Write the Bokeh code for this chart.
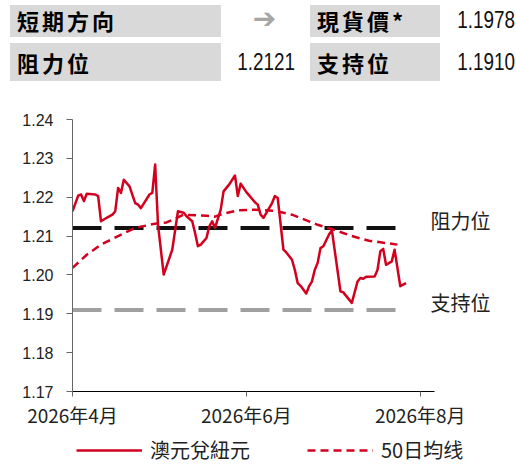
import pandas as pd
from bokeh.plotting import figure
from bokeh.models import (Range1d, FixedTicker, PrintfTickFormatter, CustomJSTickFormatter,
                          Legend, LegendItem, Div, LinearAxis)
from bokeh.layouts import column
from bokeh.embed import file_html
from bokeh.resources import INLINE

# ---------------- data ----------------
price_dates = ["2026-04-01", "2026-04-03", "2026-04-04", "2026-04-05", "2026-04-06", "2026-04-09",
               "2026-04-10", "2026-04-11", "2026-04-13", "2026-04-15", "2026-04-16", "2026-04-17",
               "2026-04-18", "2026-04-19", "2026-04-21", "2026-04-23", "2026-04-24", "2026-04-25",
               "2026-04-28", "2026-04-29", "2026-04-30", "2026-05-01", "2026-05-03", "2026-05-06",
               "2026-05-08", "2026-05-10", "2026-05-11", "2026-05-13", "2026-05-14", "2026-05-15",
               "2026-05-16", "2026-05-18", "2026-05-19", "2026-05-20", "2026-05-21", "2026-05-23",
               "2026-05-24", "2026-05-26", "2026-05-28", "2026-05-29", "2026-05-30", "2026-06-01",
               "2026-06-04", "2026-06-05", "2026-06-06", "2026-06-07", "2026-06-10", "2026-06-11",
               "2026-06-12", "2026-06-14", "2026-06-15", "2026-06-17", "2026-06-18", "2026-06-19",
               "2026-06-20", "2026-06-22", "2026-06-23", "2026-06-24", "2026-06-25", "2026-06-26",
               "2026-06-27", "2026-06-28", "2026-06-30", "2026-07-01", "2026-07-04", "2026-07-05",
               "2026-07-08", "2026-07-10", "2026-07-11", "2026-07-12", "2026-07-13", "2026-07-16",
               "2026-07-17", "2026-07-18", "2026-07-19", "2026-07-20", "2026-07-22", "2026-07-23",
               "2026-07-25", "2026-07-27"]
price_values = [1.2164, 1.2204, 1.2207, 1.2190, 1.2209, 1.2207,
                1.2203, 1.2138, 1.2147, 1.2155, 1.2164, 1.2224,
                1.2211, 1.2245, 1.2228, 1.2185, 1.2181, 1.2172,
                1.2207, 1.2211, 1.2284, 1.2129, 1.2001, 1.2065,
                1.2164, 1.2160, 1.2151, 1.2138, 1.2108, 1.2074,
                1.2078, 1.2095, 1.2125, 1.2138, 1.2121, 1.2168,
                1.2215, 1.2233, 1.2256, 1.2203, 1.2235, 1.2213,
                1.2187, 1.2181, 1.2155, 1.2147, 1.2185, 1.2203,
                1.2198, 1.2065, 1.2058, 1.2039, 1.2013, 1.1979,
                1.1972, 1.1952, 1.1971, 1.1983, 1.2013, 1.2031,
                1.2069, 1.2074, 1.2104, 1.2115, 1.1958, 1.1955,
                1.1928, 1.1983, 1.1992, 1.1990, 1.1995, 1.1996,
                1.2013, 1.2061, 1.2067, 1.2026, 1.2035, 1.2065,
                1.1971, 1.1979]

ma_dates = ["2026-04-01", "2026-04-06", "2026-04-11", "2026-04-17", "2026-04-23", "2026-04-30",
            "2026-05-04", "2026-05-10", "2026-05-18", "2026-05-21", "2026-05-24", "2026-05-29",
            "2026-06-03", "2026-06-11", "2026-06-17", "2026-06-23", "2026-06-26", "2026-07-01",
            "2026-07-08", "2026-07-14", "2026-07-20", "2026-07-24"]
ma_values = [1.2018, 1.2052, 1.2078, 1.2100, 1.2121, 1.2132,
             1.2135, 1.2155, 1.2152, 1.2150, 1.2158, 1.2166,
             1.2168, 1.2165, 1.2155, 1.2138, 1.2129, 1.2118,
             1.2100, 1.2088, 1.2082, 1.2078]

resistance = 1.2121
support = 1.1910
spot = 1.1978
direction = "➔"

y_ticks = [1.17, 1.18, 1.19, 1.20, 1.21, 1.22, 1.23, 1.24]
x_tick_dates = ["2026-04-01", "2026-06-01", "2026-08-01"]

series_names = ["澳元兌紐元", "50日均线"]
level_names = ["阻力位", "支持位"]
header_names = ["短期方向", "現貨價*", "阻力位", "支持位"]

RED = "#D2001E"
CJK = "Noto Sans CJK TC"

# ---------------- header (HTML) ----------------
def box(left, top, w, h, bg):
    return (f'<div style="position:absolute;left:{left}px;top:{top}px;width:{w}px;'
            f'height:{h}px;background:{bg};"></div>')


def txt(left, top, w, h, text, style, align="left"):
    return (f'<div style="position:absolute;left:{left}px;top:{top}px;width:{w}px;height:{h}px;'
            f'line-height:{h}px;text-align:{align};white-space:nowrap;{style}">{text}</div>')


cjk_bold = (f"font-family:'{CJK}','Noto Sans CJK SC',sans-serif;font-weight:bold;"
            "font-size:22px;letter-spacing:3px;color:#000;")
num_style = ("font-family:'Liberation Sans',Arial,sans-serif;font-size:23px;color:#111;"
             "transform:scaleX(0.82);transform-origin:right center;")
arrow_style = "font-family:'DejaVu Sans',sans-serif;font-size:28px;color:#A6A6A6;"

html = '<div style="position:relative;width:512px;height:92px;">'
html += box(5, 0, 211, 32, "#D9D9D9")
html += box(5, 38, 211, 38, "#D9D9D9")
html += box(305, 0, 130, 32, "#D9D9D9")
html += box(305, 38, 130, 38, "#D9D9D9")
html += txt(12, 0, 200, 30, header_names[0], cjk_bold)
html += txt(12, 42, 200, 30, header_names[2], cjk_bold)
html += txt(312, 0, 125, 30, header_names[1], cjk_bold)
html += txt(312, 42, 125, 30, header_names[3], cjk_bold)
html += txt(234, 0, 51, 28, direction, arrow_style, "center")
html += txt(410, 0, 100, 30, f"{spot:.4f}", num_style, "right")
html += txt(190, 42, 100, 30, f"{resistance:.4f}", num_style, "right")
html += txt(410, 42, 100, 30, f"{support:.4f}", num_style, "right")
html += '</div>'

header = Div(text=html, width=512, height=92)

# ---------------- chart ----------------
x_start = pd.Timestamp(x_tick_dates[0])
x_end = x_start + pd.Timedelta(days=127)

p = figure(width=512, height=330, x_axis_type="datetime",
           x_range=Range1d(x_start, x_end), y_range=Range1d(y_ticks[0], y_ticks[-1]),
           output_backend="svg", toolbar_location=None,
           min_border_left=72, min_border_right=78, min_border_top=17, min_border_bottom=41)
p.frame_align = False
p.outline_line_color = None
p.grid.visible = False

# level lines
hx = [pd.Timestamp(ma_dates[0]), pd.Timestamp(ma_dates[-1])]
p.line(hx, [resistance, resistance], line_color="#111111", line_width=4, line_dash="29 13")
p.line(hx, [support, support], line_color="#A0A0A0", line_width=4, line_dash="29 13")

ma_style = dict(line_color=RED, line_width=2.5, line_dash="8 5")
px_style = dict(line_color=RED, line_width=2.5)
p.line(pd.to_datetime(ma_dates), ma_values, **ma_style)
p.line(pd.to_datetime(price_dates), price_values, line_join="round", **px_style)

# axes
p.yaxis.ticker = FixedTicker(ticks=y_ticks)
p.yaxis.formatter = PrintfTickFormatter(format="%.2f")
p.xaxis.ticker = FixedTicker(ticks=[pd.Timestamp(d).value // 10**6 for d in x_tick_dates])
p.xaxis.formatter = CustomJSTickFormatter(code="""
const d = new Date(tick);
return d.getUTCFullYear() + "年" + (d.getUTCMonth() + 1) + "月";
""")
p.axis.minor_tick_line_color = None
p.axis.major_tick_in = 0
p.yaxis.major_tick_out = 6
p.xaxis.major_tick_out = 5
p.yaxis.axis_line_color = "#666666"
p.yaxis.major_tick_line_color = "#666666"
p.xaxis.axis_line_color = "#000000"
p.xaxis.major_tick_line_color = "#666666"
p.yaxis.major_label_text_font = "Liberation Sans"
p.yaxis.major_label_text_font_size = "16px"
p.yaxis.major_label_text_color = "#222222"
p.yaxis.major_label_standoff = 13
p.xaxis.major_label_text_font = CJK
p.xaxis.major_label_text_font_size = "19px"
p.xaxis.major_label_text_color = "#222222"
p.xaxis.major_label_standoff = 4

# level labels on a right-hand axis (its range sits slightly lower so the labels ride a bit above the lines)
p.extra_y_ranges = {"levels": Range1d(y_ticks[0] - 0.002, y_ticks[-1] - 0.002)}
level_axis = LinearAxis(
    y_range_name="levels",
    ticker=FixedTicker(ticks=[resistance, support]),
    formatter=CustomJSTickFormatter(args=dict(names=level_names, levels=[resistance, support]),
                                    code="const i = levels.indexOf(tick); return i >= 0 ? names[i] : '';"),
    axis_line_color=None, major_tick_line_color=None, minor_tick_line_color=None,
    major_tick_in=0, major_tick_out=0, major_label_standoff=-4,
    major_label_text_font=CJK, major_label_text_font_size="20px",
    major_label_text_color="#222222")
p.add_layout(level_axis, "right")

# ---------------- legend strip ----------------
lg = figure(width=512, height=35, x_range=Range1d(0, 1), y_range=Range1d(0, 1),
            output_backend="svg", toolbar_location=None,
            x_axis_location=None, y_axis_location=None,
            min_border_left=0, min_border_right=0, min_border_top=0, min_border_bottom=0)
lg.frame_align = False
lg.outline_line_color = None
lg.grid.visible = False
# legend proxies: same series, lying outside this strip's visible range
k_px = lg.line(pd.to_datetime(price_dates), price_values, **px_style)
k_ma = lg.line(pd.to_datetime(ma_dates), ma_values, **ma_style)
legend = Legend(items=[LegendItem(label=series_names[0], renderers=[k_px]),
                       LegendItem(label=series_names[1], renderers=[k_ma])],
                location=(76, 3), orientation="horizontal",
                glyph_width=66, glyph_height=20, label_standoff=8, spacing=57,
                padding=0, margin=0, border_line_color=None, background_fill_alpha=0,
                label_text_font=CJK, label_text_font_size="20px", label_text_color="#222222",
                label_height=20, label_width=100)
lg.add_layout(legend, "center")

layout = column(header, p, lg)
open("out.html", "w").write(file_html(layout, INLINE))
